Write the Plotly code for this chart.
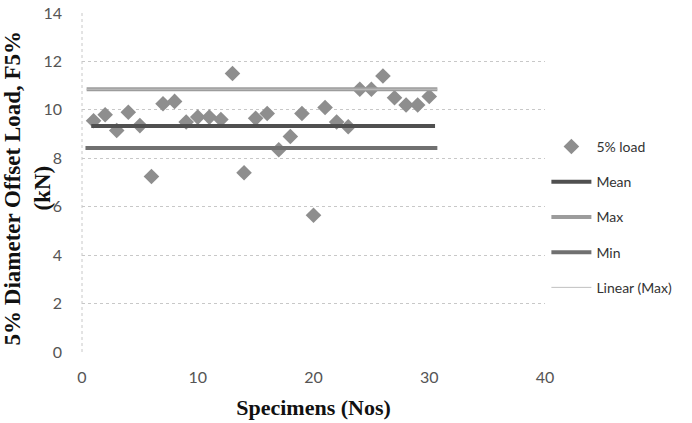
import plotly.graph_objects as go

specimens = list(range(1, 31))
load_5pct = [9.55, 9.8, 9.15, 9.9, 9.35, 7.25, 10.25, 10.35, 9.5, 9.7,
             9.7, 9.6, 11.5, 7.4, 9.65, 9.85, 8.35, 8.9, 9.85, 5.65,
             10.1, 9.5, 9.3, 10.85, 10.85, 11.4, 10.5, 10.2, 10.2, 10.55]

mean_x = [0.8, 30.5]
mean_y = [9.33, 9.33]
max_x = [0.4, 30.7]
max_y = [10.85, 10.85]
min_x = [0.3, 30.7]
min_y = [8.42, 8.42]
linmax_x = [0.4, 30.7]
linmax_y = [10.85, 10.85]

x_ticks = [0, 10, 20, 30, 40]
y_ticks = [0, 2, 4, 6, 8, 10, 12, 14]

fig = go.Figure()
fig.add_trace(go.Scatter(x=specimens, y=load_5pct, mode="markers", name="5% load",
                         marker=dict(symbol="diamond", size=12, color="#8e8e8e"),
                         legendgroup="a"))
fig.add_trace(go.Scatter(x=mean_x, y=mean_y, mode="lines", name="Mean",
                         line=dict(color="#505050", width=4), legendgroup="b"))
fig.add_trace(go.Scatter(x=max_x, y=max_y, mode="lines", name="Max",
                         line=dict(color="#9c9c9c", width=4), legendgroup="c"))
fig.add_trace(go.Scatter(x=min_x, y=min_y, mode="lines", name="Min",
                         line=dict(color="#707070", width=4), legendgroup="d"))
fig.add_trace(go.Scatter(x=linmax_x, y=linmax_y, mode="lines", name="Linear (Max)",
                         line=dict(color="#c0c0c0", width=1), legendgroup="e"))

tickfont = dict(family="Lato, Open Sans, sans-serif", size=16, color="#555555")
titlefont = dict(family="Liberation Serif, Times New Roman, serif", size=22, color="#111111")
ytitlefont = dict(family="Liberation Serif, Times New Roman, serif", size=23, color="#111111")

fig.update_layout(
    width=692, height=423,
    margin=dict(l=82, r=147, t=13, b=71),
    paper_bgcolor="white", plot_bgcolor="white",
    showlegend=True,
    legend=dict(x=1.003, y=0.652, xanchor="left", yanchor="top",
                traceorder="grouped", tracegroupgap=14,
                font=dict(family="Lato, Open Sans, sans-serif", size=14, color="#333333"),
                itemwidth=40, bgcolor="rgba(0,0,0,0)"),
    xaxis=dict(range=[0, 40], tickvals=x_ticks, showgrid=False, zeroline=False,
               showline=False, ticks="", tickfont=tickfont, automargin=False,
               ticklabelstandoff=14,
               title=dict(text="<b>Specimens (Nos)</b>", font=titlefont, standoff=14)),
    yaxis=dict(range=[0, 14], tickvals=y_ticks, showgrid=True, gridcolor="#c8c8c8",
               griddash="dot", gridwidth=1, zeroline=False, showline=False, ticks="",
               tickfont=tickfont, automargin=False, ticklabelstandoff=19,
               ticklabeloverflow="allow"),
    annotations=[dict(text="<b>5% Diameter Offset Load, F5%<br>(kN)</b>",
                      xref="paper", yref="paper", x=-0.117, y=0.485,
                      xanchor="center", yanchor="middle", textangle=-90,
                      showarrow=False, font=ytitlefont)],
)
fig.add_shape(type="line", xref="paper", yref="paper", x0=0, x1=0, y0=0, y1=1,
              line=dict(color="#c8c8c8", width=1, dash="dot"))

fig.write_html("out.html", post_script="document.body.style.margin='0';",
               config={"displayModeBar": False})
